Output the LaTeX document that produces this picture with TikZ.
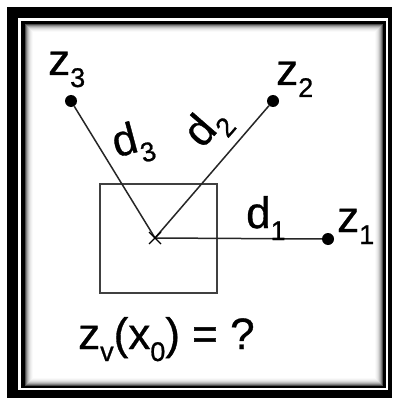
\documentclass[tikz,border=0pt]{standalone}
\usepackage{fontspec}
\setmainfont[FakeBold=0.8]{Liberation Sans}
\usetikzlibrary{positioning}
\newcommand{\lowidx}[1]{\raisebox{-12pt}{\fontsize{27}{27}\selectfont #1}}
\tikzset{
  sample dot/.style={circle,fill=black,minimum size=12pt,inner sep=0pt},
  est point/.style={inner sep=0pt,minimum size=0pt},
  dist line/.style={line width=1.5pt,black!85},
  cell box/.style={draw=black!75,line width=1.6pt},
  big label/.style={inner sep=0pt,font=\fontsize{44}{44}\selectfont},
}

\begin{document}
\begin{tikzpicture}[x=1pt,y=-1pt]
  \useasboundingbox (0,0) rectangle (392,398);
  % frame
  \fill[black] (7,7) rectangle (392,398);
  \fill[white] (18,18) rectangle (388,390);
  \fill[black] (21,21) rectangle (386,388);
  \fill[white] (24.5,24.5) rectangle (383,385.5);
  \foreach \i/\s in {0/70,1/50,2/35,3/24,4/15,5/9,6/5,7/2}
    \draw[line width=1pt,black!\s] (25+\i,25+\i) rectangle (382.5-\i,385-\i);
  % cell
  \draw[cell box] (100,184) rectangle (217,293);
  % points
  \node[est point] (x0) at (155,238) {};
  \node[sample dot] (z1) at (328,239) {};
  \node[sample dot] (z2) at (273,101) {};
  \node[sample dot] (z3) at (71,101) {};
  \draw[dist line] (x0) -- (z1);
  \draw[dist line] (x0) -- (z2);
  \draw[dist line] (x0) -- (z3);
  \draw[line width=1.4pt] (149,232) -- (161,244) (149,244) -- (161,232);
  % labels
  \node[big label,anchor=base west] (l1) at (337,232) {z\lowidx{1}};
  \node[big label,anchor=base west] (l2) at (276,85) {z\lowidx{2}};
  \node[big label,anchor=base west] (l3) at (48,75) {z\lowidx{3}};
  \node[big label,anchor=base west] (d1) at (246,228) {d\lowidx{1}};
  \node[big label,rotate=49] (d2) at (208,128) {d\lowidx{2}};
  \node[big label,rotate=15] (d3) at (133,143) {d\lowidx{3}};
  \node[big label,anchor=base west] (q) at (78,349) {z\lowidx{v}(x\lowidx{0}) = ?};
\end{tikzpicture}
\end{document}
